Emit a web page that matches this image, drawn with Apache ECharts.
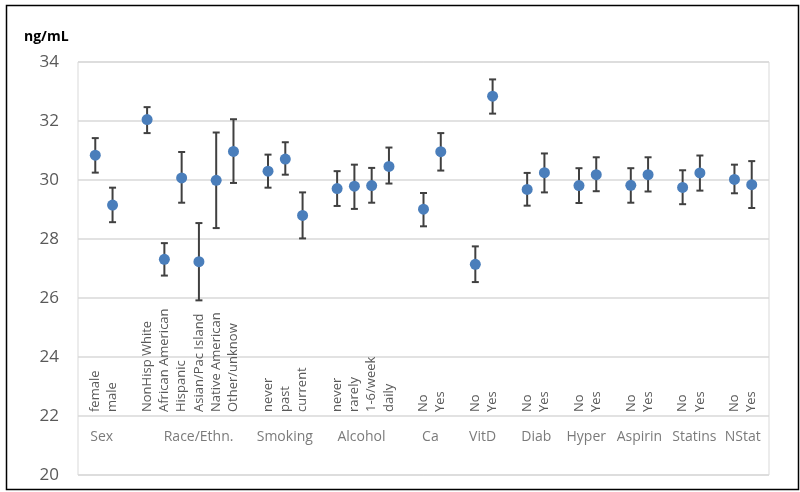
<!DOCTYPE html>
<html>
<head>
<meta charset="utf-8">
<script src="https://cdn.jsdelivr.net/npm/echarts@6/dist/echarts.min.js"></script>
<style>
html,body{margin:0;padding:0;background:#fff;}
#chart{width:800px;height:492px;}
</style>
</head>
<body>
<div id="chart"></div>
<script>
// Category slots (blank slots separate the groups)
const categories = ['', 'female','male','', 'NonHisp White','African American','Hispanic','Asian/Pac Island','Native American','Other/unknow','', 'never','past','current','', 'never','rarely','1-6/week','daily','', 'No','Yes','', 'No','Yes','', 'No','Yes','', 'No','Yes','', 'No','Yes','', 'No','Yes','', 'No','Yes',''];
const meanValues = [null, 30.84, 29.15, null, 32.05, 27.31, 30.07, 27.23, 29.99, 30.97, null, 30.30, 30.71, 28.80, null, 29.71, 29.79, 29.81, 30.46, null, 29.01, 30.96, null, 27.14, 32.84, null, 29.68, 30.25, null, 29.81, 30.18, null, 29.82, 30.18, null, 29.75, 30.24, null, 30.02, 29.84, null];
const lowerValues = [null, 30.25, 28.57, null, 31.59, 26.76, 29.23, 25.92, 28.37, 29.90, null, 29.74, 30.18, 28.02, null, 29.12, 29.02, 29.23, 29.88, null, 28.43, 30.32, null, 26.54, 32.25, null, 29.13, 29.58, null, 29.22, 29.62, null, 29.23, 29.61, null, 29.18, 29.64, null, 29.55, 29.05, null];
const upperValues = [null, 31.42, 29.74, null, 32.47, 27.86, 30.95, 28.54, 31.61, 32.06, null, 30.86, 31.28, 29.58, null, 30.30, 30.52, 30.41, 31.10, null, 29.56, 31.59, null, 27.75, 33.41, null, 30.24, 30.90, null, 30.40, 30.77, null, 30.40, 30.77, null, 30.33, 30.83, null, 30.52, 30.64, null];
const groupNames = ['Sex','Race/Ethn.','Smoking','Alcohol','Ca','VitD','Diab','Hyper','Aspirin','Statins','NStat'];
const groupPos = [1.37, 6.98, 11.97, 16.41, 20.4, 23.42, 26.53, 29.42, 32.5, 35.68, 38.48];
const groupLabelY = 21.3;
const yMin = 20, yMax = 34, yStep = 2;
const unitLabel = 'ng/mL';

const FONT = '"Open Sans", "Liberation Sans", sans-serif';
const chart = echarts.init(document.getElementById('chart'), null, {renderer: 'canvas'});

const pointData = [];
const errData = [];
meanValues.forEach((v, i) => {
  if (v !== null) {
    pointData.push([i, v]);
    errData.push([i, lowerValues[i], upperValues[i]]);
  }
});
const groupData = groupNames.map((n, i) => [groupPos[i], groupLabelY, n]);

chart.setOption({
  animation: false,
  backgroundColor: '#fff',
  title: {
    text: unitLabel, left: 19, top: 25,
    textStyle: {fontFamily: FONT, fontSize: 14, fontWeight: 'bold', color: '#000'}
  },
  graphic: [{
    type: 'rect', left: 4, top: 3, shape: {width: 792, height: 484},
    style: {fill: 'none', stroke: '#000', lineWidth: 1.5}, silent: true
  }],
  grid: {left: 78, right: 31, top: 62, bottom: 17, show: true, borderColor: '#d9d9d9', borderWidth: 1},
  xAxis: [{
    type: 'category', data: categories, boundaryGap: false,
    axisLine: {show: false}, axisTick: {show: false}, splitLine: {show: false},
    axisLabel: {interval: 0, rotate: 90, inside: true, margin: 63, color: '#595959', fontSize: 13, fontFamily: FONT}
  }, {
    type: 'value', min: 0, max: categories.length - 1, show: false
  }],
  yAxis: {
    type: 'value', min: yMin, max: yMax, interval: yStep,
    axisLine: {show: false}, axisTick: {show: false},
    splitLine: {lineStyle: {color: '#d9d9d9', width: 1.5}},
    axisLabel: {color: '#595959', fontSize: 17, fontFamily: FONT, margin: 19}
  },
  series: [{
    type: 'custom', xAxisIndex: 0, z: 2,
    data: errData,
    renderItem: function (params, api) {
      const x = api.value(0);
      const lo = api.coord([x, api.value(1)]);
      const hi = api.coord([x, api.value(2)]);
      const h = 3.5;
      const st = {stroke: '#404040', lineWidth: 2};
      return {type: 'group', children: [
        {type: 'line', shape: {x1: hi[0], y1: hi[1], x2: lo[0], y2: lo[1]}, style: st},
        {type: 'line', shape: {x1: hi[0] - h, y1: hi[1], x2: hi[0] + h, y2: hi[1]}, style: st},
        {type: 'line', shape: {x1: lo[0] - h, y1: lo[1], x2: lo[0] + h, y2: lo[1]}, style: st}
      ]};
    }
  }, {
    type: 'scatter', xAxisIndex: 0, z: 3,
    data: pointData, symbol: 'circle', symbolSize: 11,
    itemStyle: {color: '#4a7ebb', opacity: 1}
  }, {
    type: 'scatter', xAxisIndex: 1, z: 3,
    data: groupData, symbolSize: 0.1, silent: true,
    itemStyle: {color: 'rgba(0,0,0,0)'},
    label: {show: true, position: 'inside', formatter: p => p.data[2], color: '#595959', fontSize: 14, fontFamily: FONT}
  }]
});
</script>
</body>
</html>
